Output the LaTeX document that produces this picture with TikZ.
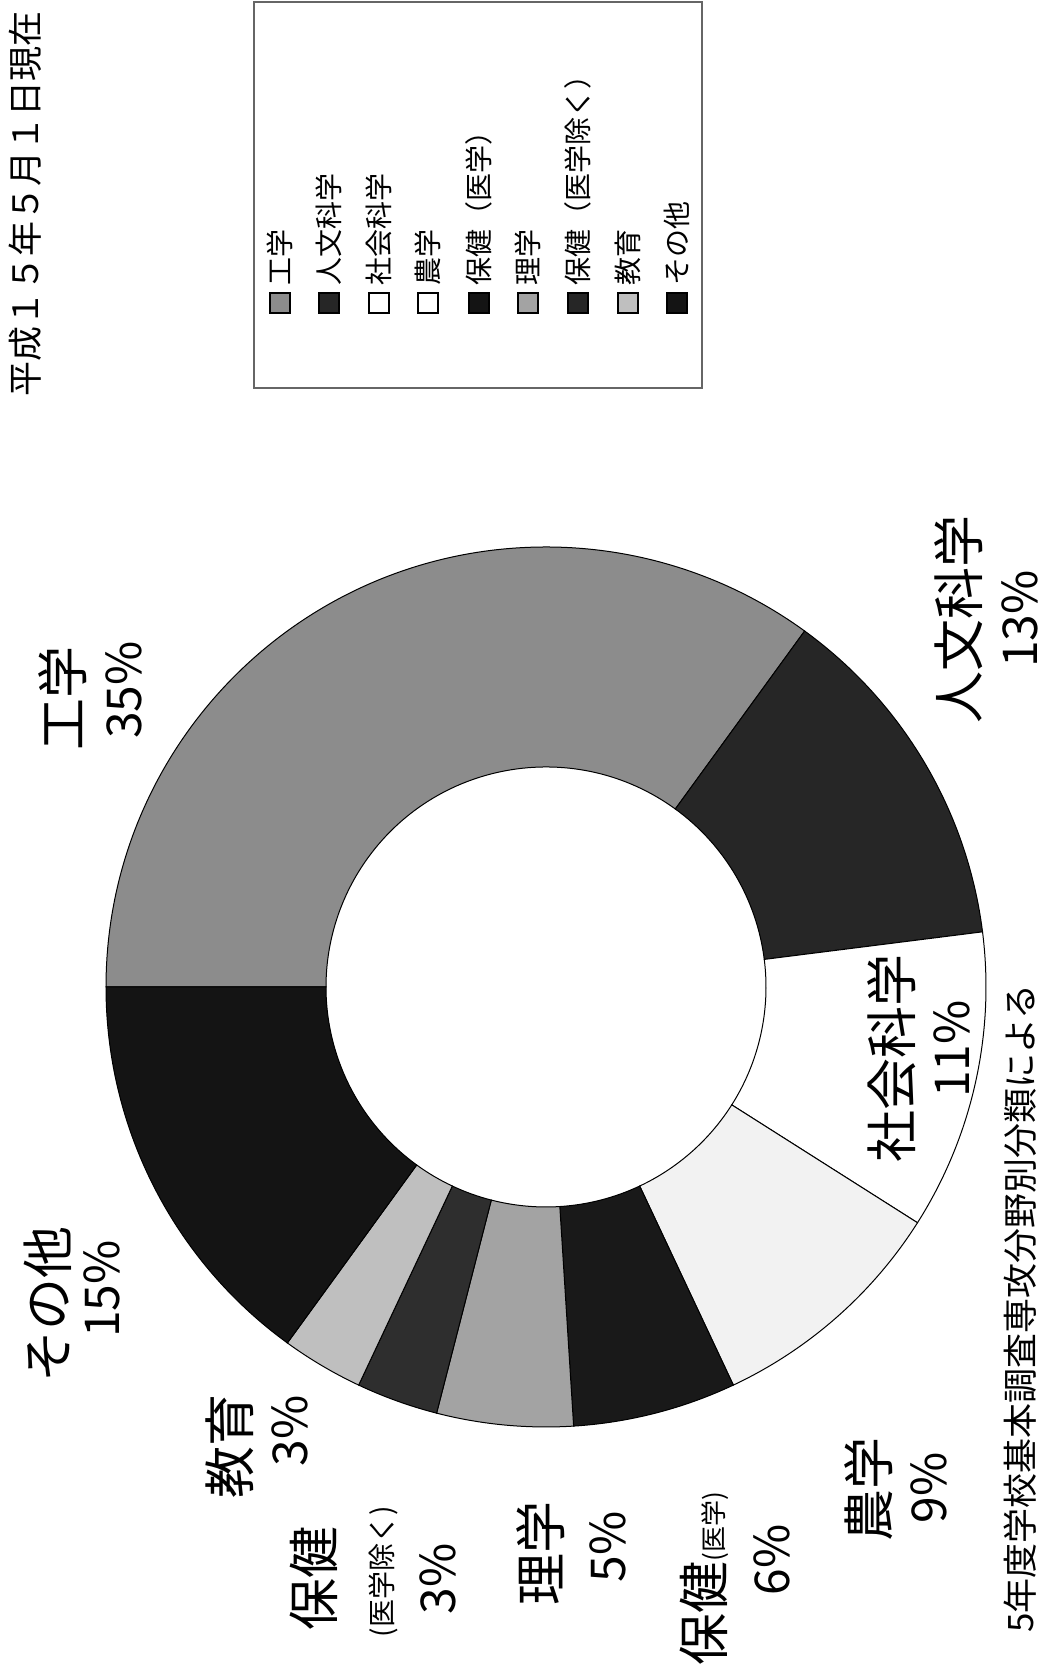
\documentclass[tikz,border=0pt]{standalone}
\usepackage{fontspec}
\setmainfont{Noto Sans CJK JP}
\tikzstyle{slice} = [draw=black, line width=0.5pt]
\tikzstyle{keyframe} = [draw=black!60, line width=0.6pt]
\tikzstyle{keybox} = [rectangle, draw=black, line width=0.6pt, minimum size=10pt, inner sep=0pt]
\tikzstyle{keytext} = [rotate=90, anchor=west, inner sep=0pt, font=\fontsize{14}{16}\selectfont]
\tikzstyle{bigtag} = [rotate=90, inner sep=0pt, font=\fontsize{26}{30}\selectfont]
\tikzstyle{pcttag} = [rotate=90, inner sep=0pt, font=\fontsize{24}{28}\selectfont]
\tikzstyle{smalltag} = [rotate=90, inner sep=0pt, font=\fontsize{14}{16}\selectfont]
\tikzstyle{notetag} = [rotate=90, inner sep=0pt, font=\fontsize{17.5}{20}\selectfont]

\begin{document}
\begin{tikzpicture}[x=0.5pt, y=0.5pt]
\useasboundingbox (0,0) rectangle (1048,1679);
\fill[white] (0,0) rectangle (1048,1679);

% ------------------------- donut -------------------------
\coordinate (c) at (546,692);
% ----- slice: 工学 35%
\draw[slice, fill=black!45, shift={(c)}] (180:440) arc(180:54:440) -- (54:220) arc(54:180:220) -- cycle;
% ----- slice: 人文科学 13%
\draw[slice, fill=black!85, shift={(c)}] (54:440) arc(54:7.2:440) -- (7.2:220) arc(7.2:54:220) -- cycle;
% ----- slice: 社会科学 11%
\draw[slice, fill=white, shift={(c)}] (7.2:440) arc(7.2:-32.4:440) -- (-32.4:220) arc(-32.4:7.2:220) -- cycle;
% ----- slice: 農学 9%
\draw[slice, fill=black!5, shift={(c)}] (-32.4:440) arc(-32.4:-64.8:440) -- (-64.8:220) arc(-64.8:-32.4:220) -- cycle;
% ----- slice: 保健(医学) 6%
\draw[slice, fill=black!90, shift={(c)}] (-64.8:440) arc(-64.8:-86.4:440) -- (-86.4:220) arc(-86.4:-64.8:220) -- cycle;
% ----- slice: 理学 5%
\draw[slice, fill=black!36, shift={(c)}] (-86.4:440) arc(-86.4:-104.4:440) -- (-104.4:220) arc(-104.4:-86.4:220) -- cycle;
% ----- slice: 保健(医学除く) 3%
\draw[slice, fill=black!82, shift={(c)}] (-104.4:440) arc(-104.4:-115.2:440) -- (-115.2:220) arc(-115.2:-104.4:220) -- cycle;
% ----- slice: 教育 3%
\draw[slice, fill=black!25, shift={(c)}] (-115.2:440) arc(-115.2:-126:440) -- (-126:220) arc(-126:-115.2:220) -- cycle;
% ----- slice: その他 15%
\draw[slice, fill=black!92, shift={(c)}] (-126:440) arc(-126:-180:440) -- (-180:220) arc(-180:-126:220) -- cycle;

% ------------------------- labels -------------------------
\node(lbl1)[bigtag] at (63,980) {工学};
\node(pct1)[pcttag] at (124,989) {35\%};
\node(lbl2)[bigtag] at (959,1059) {人文科学};
\node(pct2)[pcttag] at (1020,1060) {13\%};
\node(lbl3)[bigtag] at (892,620) {社会科学};
\node(pct3)[pcttag] at (952,630) {11\%};
\node(lbl4)[bigtag] at (869,189) {農学};
\node(pct4)[pcttag] at (929,191) {9\%};
\node(lbl5)[bigtag] at (704,100) {保健{\fontsize{13}{14}\selectfont (医学)}};
\node(pct5)[pcttag] at (772,119) {6\%};
\node(lbl6)[bigtag] at (541,125) {理学};
\node(pct6)[pcttag] at (608,132) {5\%};
\node(lbl7)[bigtag] at (314,100) {保健};
\node(sub7)[smalltag] at (383,107) {(医学除く)};
\node(pct7)[pcttag] at (438,100) {3\%};
\node(lbl8)[bigtag] at (230,232) {教育};
\node(pct8)[pcttag] at (290,248) {3\%};
\node(lbl9)[bigtag] at (48,374) {その他};
\node(pct9)[pcttag] at (102,390) {15\%};

% ------------------------- legend -------------------------
\draw[keyframe] (254,1291) rectangle (702,1677);
\node(k1)[keybox, fill=black!45] at (280,1376) {};
\node(t1)[keytext] at ([yshift=3pt]k1.north) {工学};
\node(k2)[keybox, fill=black!85] at (329,1376) {};
\node(t2)[keytext] at ([yshift=3pt]k2.north) {人文科学};
\node(k3)[keybox, fill=white] at (379,1376) {};
\node(t3)[keytext] at ([yshift=3pt]k3.north) {社会科学};
\node(k4)[keybox, fill=white] at (428,1376) {};
\node(t4)[keytext] at ([yshift=3pt]k4.north) {農学};
\node(k5)[keybox, fill=black!92] at (479,1376) {};
\node(t5)[keytext] at ([yshift=3pt]k5.north) {保健（医学）};
\node(k6)[keybox, fill=black!36] at (528,1376) {};
\node(t6)[keytext] at ([yshift=3pt]k6.north) {理学};
\node(k7)[keybox, fill=black!85] at (578,1376) {};
\node(t7)[keytext] at ([yshift=3pt]k7.north) {保健（医学除く）};
\node(k8)[keybox, fill=black!25] at (628,1376) {};
\node(t8)[keytext] at ([yshift=3pt]k8.north) {教育};
\node(k9)[keybox, fill=black!92] at (677,1376) {};
\node(t9)[keytext] at ([yshift=3pt]k9.north) {その他};

% ------------------------- notes -------------------------
\node(date)[notetag, anchor=east] at (25,1668) {平成１５年５月１日現在};
\node(src)[notetag, anchor=east] at (1020,695) {5年度学校基本調査専攻分野別分類による};

\end{tikzpicture}
\end{document}
